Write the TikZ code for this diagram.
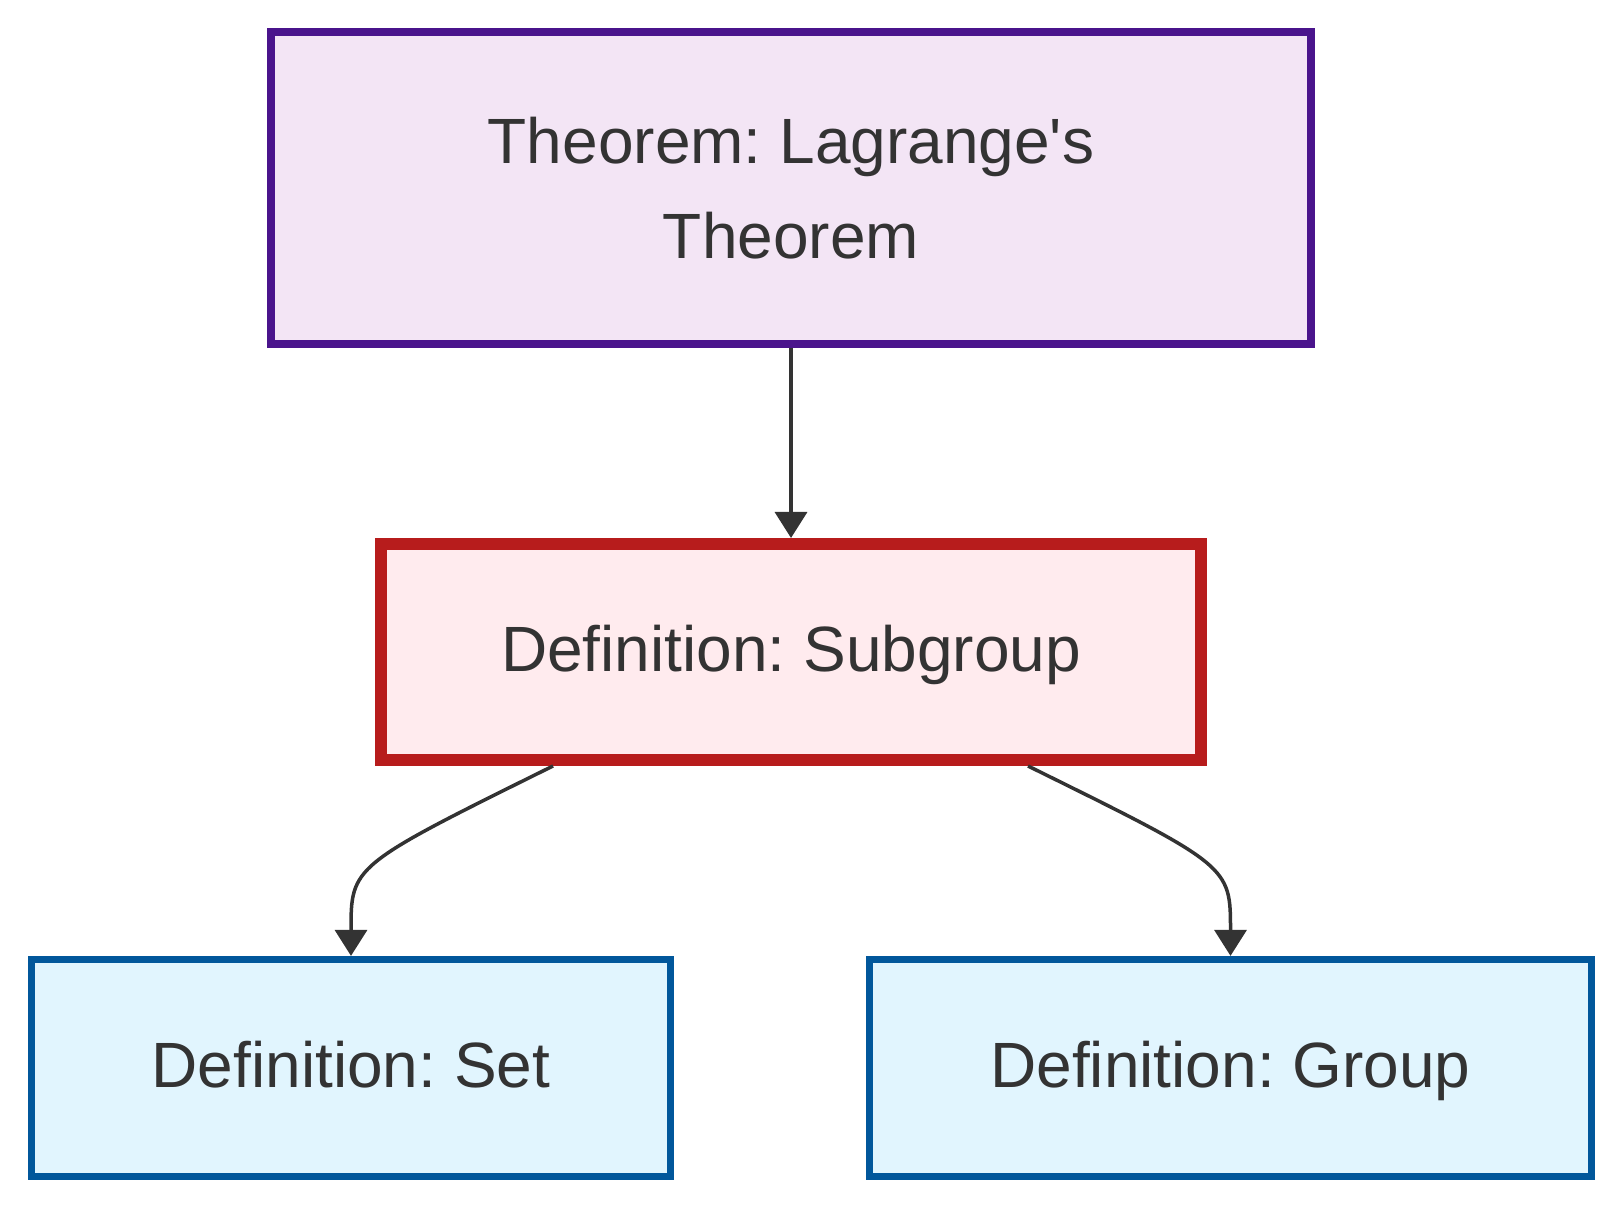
\documentclass[tikz,border=0pt]{standalone}
\usepackage{fontspec}
\setmainfont{Liberation Sans}
\usetikzlibrary{arrows.meta}
\frenchspacing
\definecolor{txt}{HTML}{333333}
\definecolor{thmline}{HTML}{4A148C}
\definecolor{thmfill}{HTML}{F3E5F5}
\definecolor{subline}{HTML}{B71C1C}
\definecolor{subfill}{HTML}{FFEBEE}
\definecolor{defline}{HTML}{01579B}
\definecolor{deffill}{HTML}{E1F5FE}

\begin{document}
\begin{tikzpicture}[x=0.5pt, y=0.5pt,
    box/.style={draw, rectangle, align=center, text=txt, inner sep=0pt,
      font=\fontsize{32}{47.5}\selectfont},
    onerow/.style={text height=22.9pt, text depth=2.9pt},
    thmbox/.style={box, draw=thmline, fill=thmfill, line width=3.75pt,
      minimum width=520pt, minimum height=156pt},
    subbox/.style={box, onerow, draw=subline, fill=subfill, line width=6pt,
      minimum width=410pt, minimum height=108pt},
    defbox/.style={box, onerow, draw=defline, fill=deffill, line width=3.6pt,
      minimum height=108.5pt},
    edge/.style={draw=txt, line width=1.75pt, -{Triangle[length=13pt,width=16pt]}}]
         \useasboundingbox (0, 0) rectangle (1620, 1208);
         \node[thmbox] (TH) at (791, 1020) {Theorem: Lagrange\textquotesingle s\\Theorem};
         \node[subbox] (SG) at (791, 556) {Definition: Subgroup};
         \node[defbox, minimum width=319.5pt] (ST) at (351, 140) {Definition: Set};
         \node[defbox, minimum width=361pt] (GR) at (1230.5, 140) {Definition: Group};
         \draw[edge] (TH) -- (SG);
         \draw[edge] ([xshift=-119pt]SG.south) .. controls ([yshift=45pt]ST.north) .. (ST.north);
         \draw[edge] ([xshift=118.5pt]SG.south) .. controls ([yshift=45pt]GR.north) .. (GR.north);
\end{tikzpicture}
\end{document}
